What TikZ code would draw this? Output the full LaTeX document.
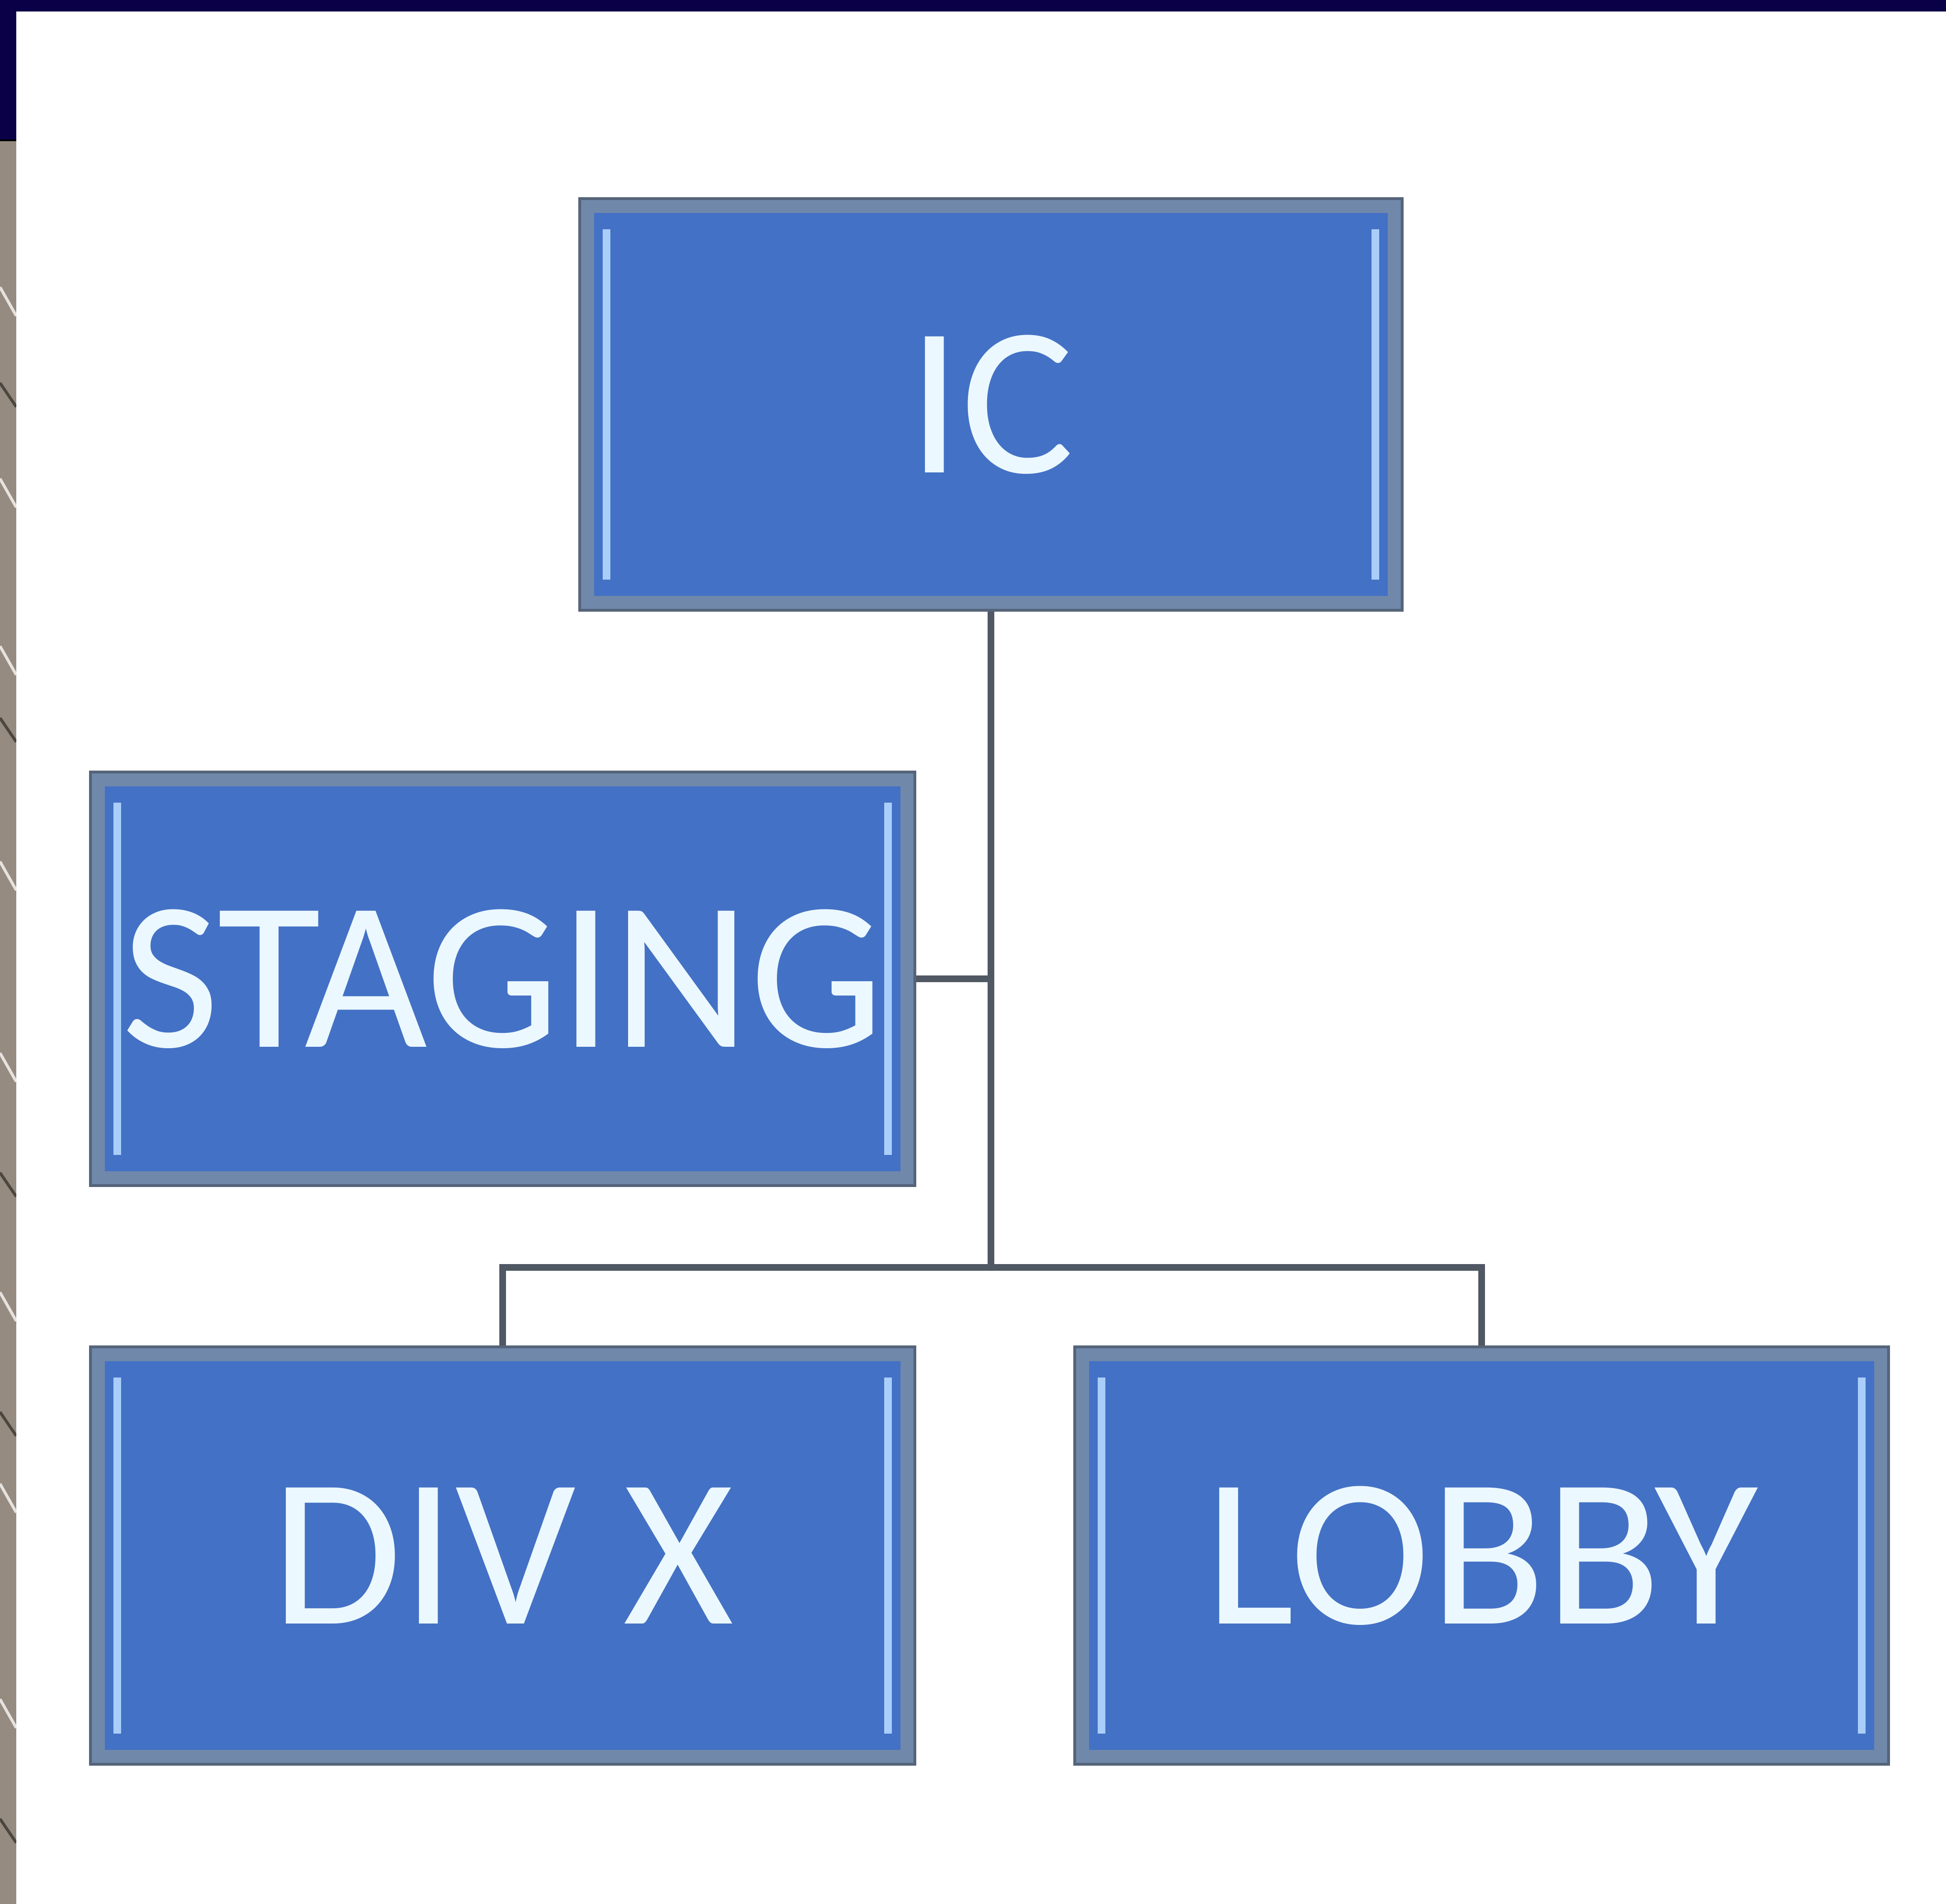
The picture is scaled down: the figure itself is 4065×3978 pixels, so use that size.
\documentclass[tikz,border=0pt]{standalone}
\usepackage{fontspec}
\newfontfamily\boxfont{Carlito}
\definecolor{navy}{RGB}{9,0,72}
\definecolor{boxblue}{RGB}{67,113,197}
\definecolor{boxedge}{RGB}{112,136,170}
\definecolor{boxdark}{RGB}{85,100,122}
\definecolor{strip}{RGB}{170,206,250}
\definecolor{linkgray}{RGB}{80,88,100}
\definecolor{txt}{RGB}{236,248,255}
\definecolor{stone}{RGB}{150,139,128}
\begin{document}
\begin{tikzpicture}[x=0.25pt,y=-0.25pt,
  orgbox/.style={rectangle, inner sep=0pt, fill=boxblue, draw=boxdark, line width=1.5pt,
    text=txt, font=\boxfont\fontsize{110.75}{110.75}\selectfont,
    path picture={
      \draw[boxedge, line width=15pt] (path picture bounding box.south west) rectangle (path picture bounding box.north east);
      \draw[strip, line width=4pt] ([xshift=14pt,yshift=-16pt]path picture bounding box.north west) -- ([xshift=14pt,yshift=16pt]path picture bounding box.south west);
      \draw[strip, line width=4pt] ([xshift=-14pt,yshift=-16pt]path picture bounding box.north east) -- ([xshift=-14pt,yshift=16pt]path picture bounding box.south east);
    }},
  link/.style={draw=linkgray, line width=3.6pt, line join=miter}]
\useasboundingbox (0,0) rectangle (4065,3978);
\fill[white] (0,0) rectangle (4065,3978);
% frame
\fill[navy] (0,0) rectangle (4065,24);
\fill[navy] (0,0) rectangle (34,293);
\fill[stone] (0,293) rectangle (34,3978);
\draw[black, line width=1pt] (0,293) -- (34,293);
\begin{scope}
\clip (0,293) rectangle (34,3978);
\foreach \yy in {600,1000,1350,1800,2200,2700,3100,3550}
  \draw[white!75!stone, line width=1.5pt] (0,\yy) -- (34,\yy+60);
\foreach \yy in {800,1500,2450,2950,3800}
  \draw[black!50!stone, line width=1.5pt] (0,\yy) -- (34,\yy+50);
\end{scope}
% nodes
\node[orgbox, minimum width=429.5pt, minimum height=215pt] (ic) at (2070,845) {IC};
\node[orgbox, minimum width=430.5pt, minimum height=216pt] (staging) at (1050,2045) {STAGING};
\node[orgbox, minimum width=430.5pt, minimum height=218pt] (divx) at (1050,3250) {DIV X};
\node[orgbox, minimum width=425pt, minimum height=218pt] (lobby) at (3095,3250) {LOBBY};
\coordinate (bus) at (2070,2648);
% connectors
\draw[link] (ic.south) -- (bus);
\draw[link] (staging.east) -- (staging.east -| bus);
\draw[link] (divx.north) -- (divx.north |- bus) -- (lobby.north |- bus) -- (lobby.north);
\end{tikzpicture}
\end{document}
